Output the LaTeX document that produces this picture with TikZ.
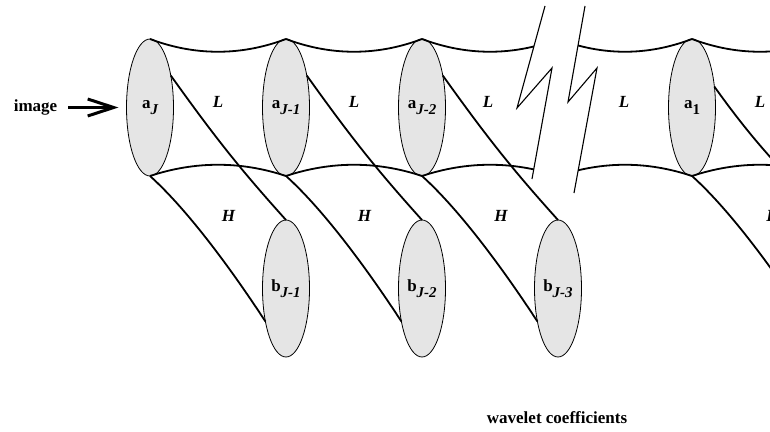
\documentclass[tikz,border=0pt]{standalone}
\usepackage{fontspec}
\setmainfont{Liberation Serif}
\usetikzlibrary{shapes.geometric,arrows.meta,positioning}

\newcommand{\coeflab}[2]{{\bfseries #1}\raisebox{-6pt}{\fontsize{15}{15}\selectfont\bfseries\itshape #2}}

\begin{document}
\begin{tikzpicture}[x=1pt, y=-1pt, font=\fontsize{17}{20}\selectfont\bfseries,
    coef/.style={ellipse, draw=black, line width=0.8pt, fill=black!10,
      minimum width=47pt, minimum height=137pt, inner sep=0pt, outer sep=0pt},
    band/.style={line width=1.8pt},
    zig/.style={line width=1.1pt},
    bandlab/.style={font=\fontsize{17}{20}\selectfont\bfseries\itshape},
    imgarrow/.style={line width=3pt, -{Straight Barb[length=26pt,width=17pt]},
      shorten <=11pt, shorten >=8pt}]
    \useasboundingbox (0,0) rectangle (770,431);
    \clip (0,0) rectangle (770,431);

    % approximation coefficients
    \node[coef] (aJ) at (150,107.5) {\coeflab{a}{J}};
    \node[coef] (aJ1) at (286,107.5) {\coeflab{a}{J-1}};
    \node[coef] (aJ2) at (422,107.5) {\coeflab{a}{J-2}};
    \node[coef] (a1) at (692,107.5) {\coeflab{a}{\upshape 1}};
    % detail coefficients
    \node[coef] (bJ1) at (286,288.5) {\coeflab{b}{J-1}};
    \node[coef] (bJ2) at (422,288.5) {\coeflab{b}{J-2}};
    \node[coef] (bJ3) at (558,288.5) {\coeflab{b}{J-3}};

    \coordinate (gapN) at (558,39);
    \coordinate (gapS) at (558,176);
    \coordinate (nextN) at (828,39);
    \coordinate (nextS) at (828,176);
    \coordinate (nextb) at (828,220);
    \coordinate (nextbw) at (807,321);

    % L bands
    \draw[band] (aJ.north) .. controls +(45,17) and +(-45,17) .. (aJ1.north);
    \draw[band] (aJ.south) .. controls +(45,-15) and +(-45,-15) .. (aJ1.south);
    \draw[band] (aJ1.north) .. controls +(45,17) and +(-45,17) .. (aJ2.north);
    \draw[band] (aJ1.south) .. controls +(45,-15) and +(-45,-15) .. (aJ2.south);
    \begin{scope}
        \clip (400,0) -- (545,6) -- (517,108) -- (552,68) -- (532,179) -- (528,200) -- (400,200) -- cycle;
        \draw[band] (aJ2.north) .. controls +(45,17) and +(-45,17) .. (gapN);
        \draw[band] (aJ2.south) .. controls +(45,-15) and +(-45,-15) .. (gapS);
    \end{scope}
    \begin{scope}
        \clip (585,0) -- (585,6) -- (568,102) -- (597,68) -- (574,193) -- (574,220) -- (700,220) -- (700,0) -- cycle;
        \draw[band] (gapN) .. controls +(45,17) and +(-45,17) .. (a1.north);
        \draw[band] (gapS) .. controls +(45,-15) and +(-45,-15) .. (a1.south);
    \end{scope}
    \draw[band] (a1.north) .. controls +(45,17) and +(-45,17) .. (nextN);
    \draw[band] (a1.south) .. controls +(45,-15) and +(-45,-15) .. (nextS);

    % H bands
    \draw[band] (aJ.57) .. controls +(45,63) and +(-45,-50) .. (bJ1.north);
    \draw[band] (aJ.south) .. controls +(40,36) and +(-30,-46) .. (bJ1.238);
    \draw[band] (aJ1.57) .. controls +(45,63) and +(-45,-50) .. (bJ2.north);
    \draw[band] (aJ1.south) .. controls +(40,36) and +(-30,-46) .. (bJ2.238);
    \draw[band] (aJ2.57) .. controls +(45,63) and +(-45,-50) .. (bJ3.north);
    \draw[band] (aJ2.south) .. controls +(40,36) and +(-30,-46) .. (bJ3.238);
    \draw[band] (a1.43) .. controls +(45,63) and +(-45,-50) .. (nextb);
    \draw[band] (a1.south) .. controls +(40,36) and +(-30,-46) .. (nextbw);

    % break
    \draw[zig] (545,6) -- (517,108) -- (552,68) -- (532,179);
    \draw[zig] (585,6) -- (568,102) -- (597,68) -- (574,193);

    \node[bandlab] (L1) at (218,102) {L};
    \node[bandlab] (L2) at (354,102) {L};
    \node[bandlab] (L3) at (488,102) {L};
    \node[bandlab] (L4) at (624,102) {L};
    \node[bandlab] (L5) at (760,102) {L};
    \node[bandlab] (H1) at (228.5,215.5) {H};
    \node[bandlab] (H2) at (364.5,215.5) {H};
    \node[bandlab] (H3) at (501,215.5) {H};
    \node[bandlab] (H4) at (773,215.5) {H};

    \node[inner sep=0pt] (img) at (35.5,107.5) {image};
    \draw[imgarrow] (img.east) -- (aJ.west);
    \node[anchor=base] (wc) at (557,423) {wavelet coefficients};
\end{tikzpicture}
\end{document}
